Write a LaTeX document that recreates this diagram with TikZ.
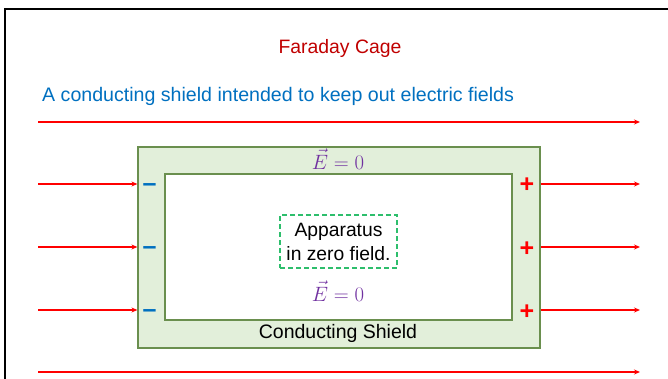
\documentclass[tikz,border=0pt]{standalone}
\usepackage{fontspec}
\setmainfont{Liberation Sans}
\usetikzlibrary{arrows.meta, positioning}

\begin{document}
\begin{tikzpicture}[x=1pt, y=-1pt,
    field/.style={draw=fieldColour, line width=1.6pt, -{Stealth[length=6pt,width=5pt]}},
    plate/.style={inner sep=0pt, anchor=base, font=\fontsize{25}{25}\selectfont\bfseries}]
    % Define colours
    \definecolor{fieldColour}{HTML}{FF0000}
    \definecolor{titleColour}{HTML}{C00000}
    \definecolor{textColour}{HTML}{0070C0}
    \definecolor{mathColour}{HTML}{7030A0}
    \definecolor{shieldColour}{HTML}{E2EFDA}
    \definecolor{edgeColour}{HTML}{6A8F4E}
    \definecolor{dashColour}{HTML}{2DBE6C}

    % Fix the page size
    \useasboundingbox (0,0) rectangle (668,379);

    % Draw frame
    \draw[line width=2pt] (5,379) -- (5,9.5) -- (668,9.5);

    % Titles
    \node[text=titleColour, font=\fontsize{19.4}{22}\selectfont] (title) at (340,48) {Faraday Cage};
    \node[text=textColour, font=\fontsize{19.6}{22}\selectfont, anchor=west, inner sep=0pt] (subtitle) at (42,96) {A conducting shield intended to keep out electric fields};

    % Draw the shield and the cavity inside it
    \node[draw=edgeColour, fill=shieldColour, line width=1.2pt, minimum width=402, minimum height=201, inner sep=0pt] (shield) at (339,247.5) {};
    \node[draw=edgeColour, fill=white, line width=1.2pt, minimum width=347, minimum height=146, inner sep=0pt] (cavity) at (338.5,247) {};

    % Labels in the shield
    \node[text=mathColour, font=\fontsize{20}{20}\selectfont, inner sep=0pt] (Etop) at (338,159) {$\vec{E}=0$};
    \node[font=\fontsize{19.5}{22}\selectfont] (label) at (338,333) {Conducting Shield};
    \node[draw=dashColour, dashed, line width=1.4pt, dash pattern=on 5pt off 3pt, align=center,
          font=\fontsize{19.3}{24}\selectfont, minimum width=117, minimum height=53, inner sep=0pt] (apparatus) at (338.5,241.5) {Apparatus\\in zero field.};
    \node[text=mathColour, font=\fontsize{20}{20}\selectfont, inner sep=0pt] (Ein) at (338,291) {$\vec{E}=0$};

    % Draw the field lines outside the shield
    \coordinate (topL) at (38,122);
    \coordinate (topR) at (640,122);
    \coordinate (botL) at (38,372);
    \coordinate (botR) at (640,372);
    \draw[field] (topL) -- (topR);
    \draw[field] (botL) -- (botR);

    % Field lines ending and starting on the shield, with the charges
    \foreach \y [count=\i] in {184,247,310} {
        \coordinate (inL\i) at (38,\y);
        \coordinate (outR\i) at (640,\y);
        \draw[field] (inL\i) -- (shield.west |- inL\i);
        \draw[field] (shield.east |- outR\i) -- (outR\i);
        \node[plate, text=textColour] (minus\i) at (149.5,\y+7.5) {--};
        \node[plate, text=fieldColour] (plus\i) at (527,\y+9) {+};
    }

\end{tikzpicture}
\end{document}
